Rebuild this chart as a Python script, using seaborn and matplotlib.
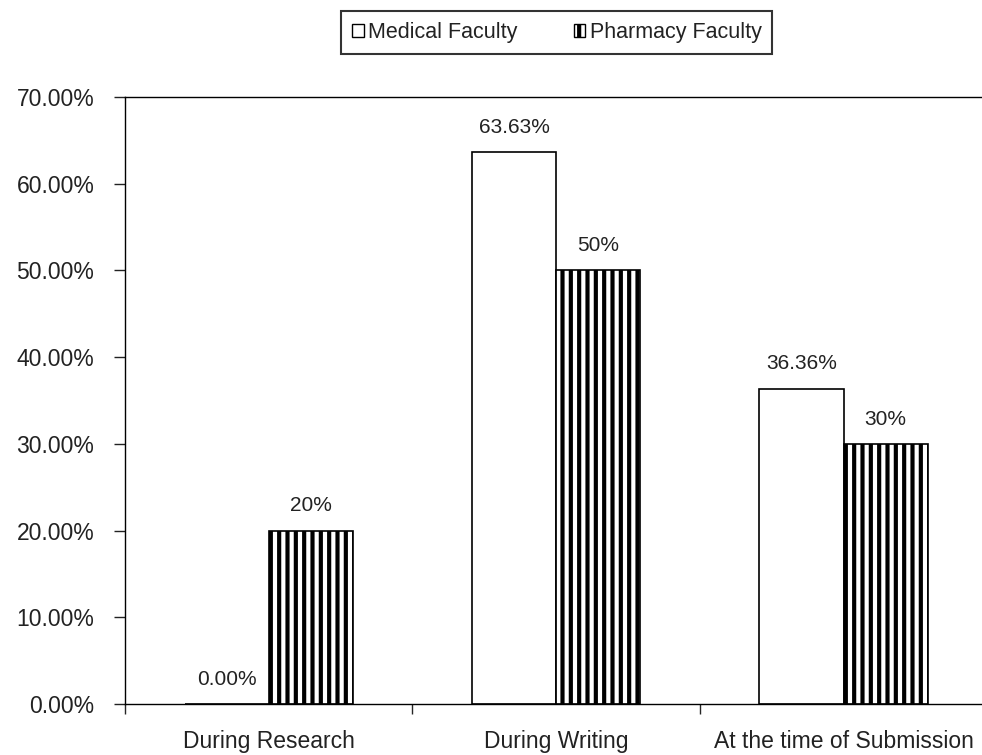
import matplotlib
matplotlib.use("Agg")
import matplotlib.pyplot as plt
from matplotlib.patches import Patch
from matplotlib.ticker import FixedLocator, FuncFormatter
import numpy as np
import pandas as pd
import seaborn as sns

stages = ["During Research", "During Writing", "At the time of Submission"]
medical = [0.00, 63.63, 36.36]
pharmacy = [20, 50, 30]
medical_labels = ["0.00%", "63.63%", "36.36%"]
pharmacy_labels = ["20%", "50%", "30%"]
series = ["Medical Faculty", "Pharmacy Faculty"]

df = pd.DataFrame({
    "stage": stages * 2,
    "value": medical + pharmacy,
    "faculty": [series[0]] * 3 + [series[1]] * 3,
})

sns.set_theme(style="white")
plt.rcParams["font.family"] = ["Liberation Sans", "DejaVu Sans"]
plt.rcParams["hatch.linewidth"] = 3.0
plt.rcParams["hatch.color"] = "black"

fig = plt.figure(figsize=(9.82, 7.55), dpi=100)
ax = fig.add_axes([0.1273, 0.0675, 0.878, 0.804])

sns.barplot(data=df, x="stage", y="value", hue="faculty", order=stages,
            hue_order=series, palette=["white", "white"], saturation=1,
            edgecolor="black", linewidth=1.2, width=0.585, legend=False, ax=ax)

for patch in ax.containers[1]:
    patch.set_hatch("||")

ax.bar_label(ax.containers[0], labels=medical_labels, padding=11,
             fontsize=15, color="#222222")
ax.bar_label(ax.containers[1], labels=pharmacy_labels, padding=11,
             fontsize=15, color="#222222")

ax.set_xlim(-0.5, 2.5)
ax.set_ylim(0, 70)
ax.yaxis.set_major_locator(FixedLocator(np.arange(0, 71, 10)))
ax.yaxis.set_major_formatter(FuncFormatter(lambda v, _: f"{v:.2f}%"))
ax.tick_params(axis="y", direction="out", length=8, width=1, pad=14,
               labelsize=16.5, colors="#222222", left=True)

# category boundaries carry the tick marks, centres carry the names
ax.set_xticks([-0.5, 0.5, 1.5, 2.5])
ax.set_xticklabels([])
ax.set_xticks([0, 1, 2], minor=True)
ax.set_xticklabels(stages, minor=True)
ax.tick_params(axis="x", which="major", direction="out", length=7, width=1,
               bottom=True)
ax.tick_params(axis="x", which="minor", length=0, pad=19, labelsize=16.5,
               colors="#222222")

ax.set_xlabel("")
ax.set_ylabel("")
for side in ["left", "bottom", "top"]:
    ax.spines[side].set_visible(True)
    ax.spines[side].set_color("black")
    ax.spines[side].set_linewidth(1.0)
ax.spines["right"].set_visible(False)

handles = [
    Patch(facecolor="white", edgecolor="black", linewidth=1.0, label=series[0]),
    Patch(facecolor="white", edgecolor="black", linewidth=1.0, hatch="||",
          label=series[1]),
]
leg = fig.legend(handles=handles, loc="center", bbox_to_anchor=(0.567, 0.957),
                 ncol=2, frameon=True, fancybox=False, fontsize=15.5,
                 handlelength=0.55, handleheight=0.55, handletextpad=0.2,
                 columnspacing=2.6, borderpad=0.5, borderaxespad=0)
leg.get_frame().set_edgecolor("black")
leg.get_frame().set_linewidth(1.5)
for t in leg.get_texts():
    t.set_color("#222222")

fig.savefig("out.png", dpi=100)
